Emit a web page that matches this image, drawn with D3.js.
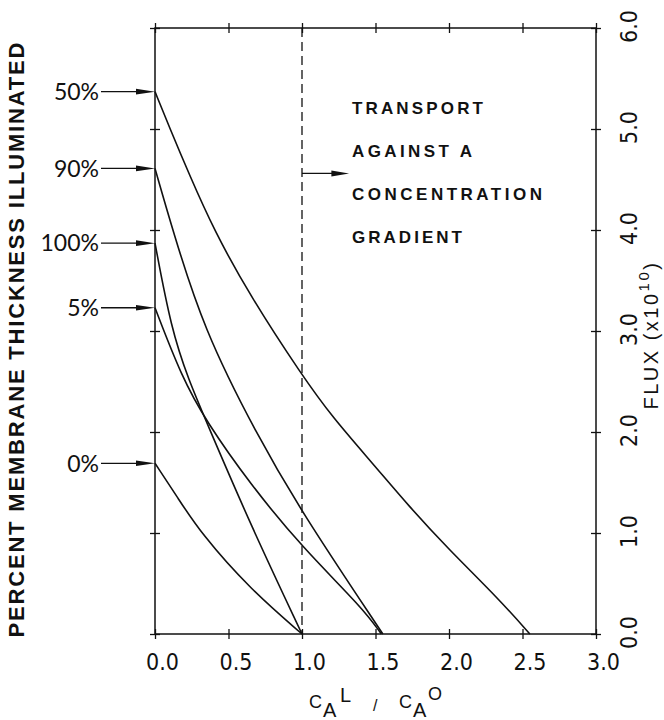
<!DOCTYPE html>
<html>
<head>
<meta charset="utf-8">
<script src="https://cdn.jsdelivr.net/npm/d3@7"></script>
<style>
  body { margin: 0; background: #fff; }
  svg { display: block; }
  .frame { fill: none; stroke: #111; stroke-width: 1.5px; }
  .curve { fill: none; stroke: #111; stroke-width: 1.6px; }
  .ax .tick line { stroke: #111; stroke-width: 1.3px; }
  .ax .domain { display: none; }
  .ax text { font-family: 'Liberation Sans Narrow', 'DejaVu Sans Condensed', sans-serif; font-size: 23px; fill: #111; }
  .pct { font-family: Lato, 'DejaVu Sans', sans-serif; font-size: 23px; fill: #111; }
  .note { font-family: 'Liberation Sans', Arial, sans-serif; font-weight: bold; font-size: 17px; fill: #111; }
  .title { font-family: 'Liberation Sans', Arial, sans-serif; fill: #111; }
</style>
</head>
<body>
<svg id="chart" width="664" height="720"></svg>
<script>
// flux curves: [C_A^L / C_A^O, flux (x1e10)]
var illum50 = [[0, 5.37], [0.10, 5.01], [0.23, 4.56], [0.40, 4.00], [0.65, 3.34], [1.00, 2.56], [1.21, 2.14], [1.48, 1.69], [1.73, 1.26], [1.99, 0.85], [2.35, 0.33], [2.55, 0]]
var illum90 = [[0, 4.61], [0.12, 4.00], [0.33, 3.02], [0.69, 1.98], [1.00, 1.20], [1.55, 0]]
var illum100 = [[0, 3.87], [0.11, 3.02], [0.23, 2.51], [0.35, 2.10], [0.65, 1.08], [1.00, 0]]
var illum5 = [[0, 3.23], [0.18, 2.55], [0.35, 2.10], [0.65, 1.48], [1.00, 0.86], [1.41, 0.26], [1.54, 0]]
var illum0 = [[0, 1.69], [0.15, 1.36], [0.31, 1.00], [0.65, 0.44], [1.00, 0]]
var seriesLabels = ['50%', '90%', '100%', '5%', '0%']

var xTicks = [0, 0.5, 1, 1.5, 2, 2.5, 3]
var yTicks = [0, 1, 2, 3, 4, 5, 6]
var boundary = 1.0
var noteLines = ['TRANSPORT', 'AGAINST A', 'CONCENTRATION', 'GRADIENT']

;(function () {
  var width = 664
  var height = 720
  var margin = {top: 28, right: 68, bottom: 86, left: 155}
  var innerw = width - margin.left - margin.right
  var innerh = height - margin.top - margin.bottom

  var svg = d3.select('#chart')
  var g = svg.append('g')
      .attr('transform', `translate(${margin.left},${margin.top})`)

  var mapx = d3.scaleLinear().domain([0, 3]).range([0, innerw])
  var mapy = d3.scaleLinear().domain([0, 6]).range([innerh, 0])

  // frame
  g.append('rect')
      .classed('frame', true)
      .attr('width', innerw)
      .attr('height', innerh)

  // cross-shaped ticks on all four sides
  function crossTicks (sel, vertical) {
    sel.selectAll('.tick line')
        .attr(vertical ? 'x1' : 'y1', -5)
        .attr(vertical ? 'x2' : 'y2', 5)
  }

  var bottom = g.append('g').classed('ax x', true)
      .attr('transform', `translate(0,${innerh})`)
      .call(d3.axisBottom(mapx).tickValues(xTicks).tickFormat(d3.format('.1f')))
  crossTicks(bottom, false)
  bottom.selectAll('text').attr('y', 36).attr('dy', 0).attr('dx', 7)

  var top = g.append('g').classed('ax', true)
      .call(d3.axisTop(mapx).tickValues(xTicks).tickFormat(''))
  crossTicks(top, false)

  var left = g.append('g').classed('ax', true)
      .call(d3.axisLeft(mapy).tickValues(yTicks).tickFormat(''))
  crossTicks(left, true)

  var right = g.append('g').classed('ax y', true)
      .attr('transform', `translate(${innerw},0)`)
      .call(d3.axisRight(mapy).tickValues(yTicks).tickFormat(d3.format('.1f')))
  crossTicks(right, true)
  right.selectAll('text')
      .attr('x', null)
      .attr('dy', 0)
      .attr('text-anchor', 'middle')
      .attr('transform', 'translate(41,-2) rotate(-90)')

  // boundary C_A^L = C_A^O
  g.append('line')
      .attr('x1', mapx(boundary)).attr('x2', mapx(boundary))
      .attr('y1', mapy(6)).attr('y2', mapy(0))
      .style('stroke', '#111')
      .style('stroke-width', 1.3)
      .style('stroke-dasharray', '9,5')

  // curves
  var series = [illum50, illum90, illum100, illum5, illum0]
  var line = d3.line()
      .x(d => mapx(d[0]))
      .y(d => mapy(d[1]))
      .curve(d3.curveBasis)

  g.selectAll('.curve')
      .data(series)
      .enter().append('path')
      .classed('curve', true)
      .attr('d', line)

  // percent labels with arrows pointing at each curve's start
  var lab = g.selectAll('.lab')
      .data(series)
      .enter().append('g')
      .classed('lab', true)
      .attr('transform', d => `translate(0,${mapy(d[0][1])})`)

  lab.append('text')
      .classed('pct', true)
      .attr('x', -56)
      .attr('dy', '0.36em')
      .attr('text-anchor', 'end')
      .text((d, i) => seriesLabels[i])

  lab.append('line')
      .attr('x1', -54).attr('x2', -14)
      .style('stroke', '#111')
      .style('stroke-width', 1.3)

  lab.append('path')
      .attr('d', 'M-19,-2.8L0,0L-19,2.8Z')
      .style('fill', '#111')

  // annotation
  var noteX = mapx(1.34)
  var arrowY = mapy(4.56)
  g.append('line')
      .attr('x1', mapx(boundary)).attr('x2', mapx(1.22))
      .attr('y1', arrowY).attr('y2', arrowY)
      .style('stroke', '#111')
      .style('stroke-width', 1.3)
  g.append('path')
      .attr('d', `M${mapx(1.2)},${arrowY - 3}L${mapx(1.32)},${arrowY}L${mapx(1.2)},${arrowY + 3}Z`)
      .style('fill', '#111')

  var noteLen = [131, 120, 190, 110]
  g.selectAll('.note')
      .data(noteLines)
      .enter().append('text')
      .classed('note', true)
      .attr('x', noteX)
      .attr('y', (d, i) => 86 + i * 43)
      .attr('textLength', (d, i) => noteLen[i])
      .attr('lengthAdjust', 'spacing')
      .text(d => d)

  // axis titles
  svg.append('text')
      .classed('title', true)
      .attr('transform', 'translate(24,340) rotate(-90)')
      .attr('text-anchor', 'middle')
      .attr('textLength', 595)
      .attr('lengthAdjust', 'spacing')
      .style('font-size', '22px')
      .style('font-weight', 'bold')
      .text('PERCENT MEMBRANE THICKNESS ILLUMINATED')

  var flux = svg.append('text')
      .classed('title', true)
      .attr('transform', 'translate(658,335) rotate(-90)')
      .attr('text-anchor', 'middle')
      .style('font-size', '20px')
      .style('letter-spacing', '2.5px')
  flux.append('tspan').text('FLUX (x10')
  flux.append('tspan').attr('dy', -9).style('font-size', '15px').text('10')
  flux.append('tspan').attr('dy', 9).text(')')

  var xt = svg.append('text')
      .classed('title', true)
  var xparts = [
    {t: 'C', x: 309, y: 708, s: 18},
    {t: 'A', x: 323, y: 717, s: 20},
    {t: 'L', x: 340, y: 702, s: 20},
    {t: '/', x: 373, y: 711, s: 16},
    {t: 'C', x: 399, y: 708, s: 18},
    {t: 'A', x: 413, y: 717, s: 20},
    {t: 'O', x: 428, y: 700, s: 18}
  ]
  xt.selectAll('tspan')
      .data(xparts)
      .enter().append('tspan')
      .attr('x', d => d.x)
      .attr('y', d => d.y)
      .style('font-size', d => d.s + 'px')
      .text(d => d.t)
})()
</script>
</body>
</html>
